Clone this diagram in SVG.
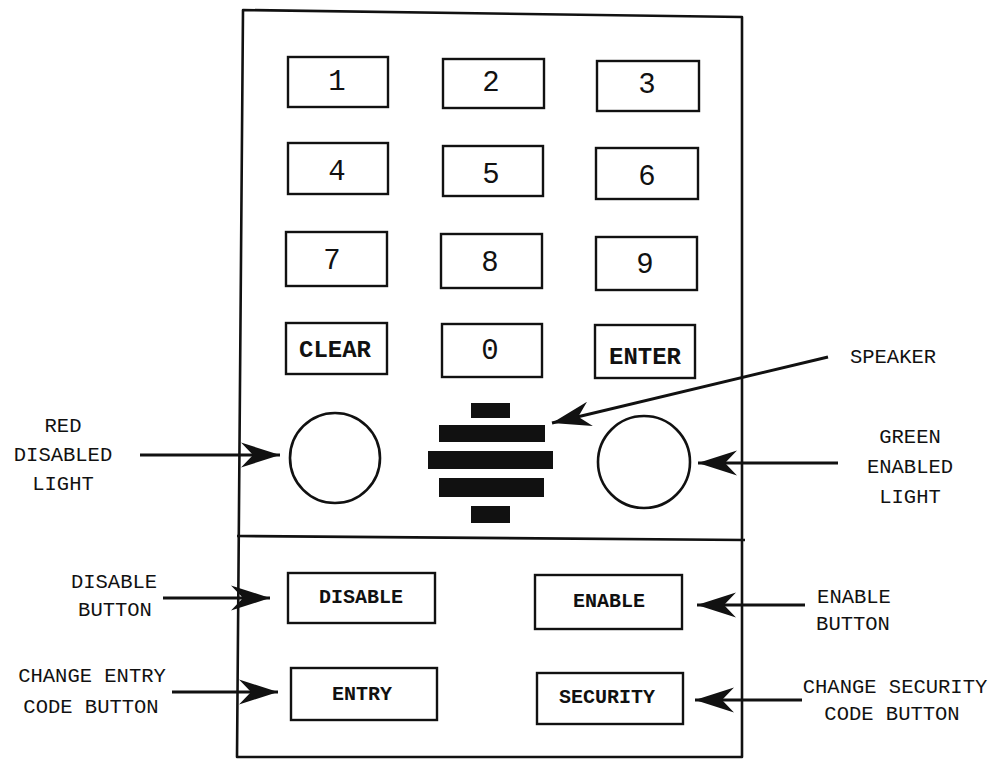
<svg xmlns="http://www.w3.org/2000/svg" width="995" height="761" viewBox="0 0 995 761">
  <style>
    .frame { fill: none; stroke: #111; stroke-width: 2.6; stroke-linejoin: round; }
    .key { fill: #fff; stroke: #111; stroke-width: 2.4; }
    .digit { font-family: "Liberation Mono", "Courier New", monospace; font-size: 29px; fill: #111; text-anchor: middle; }
    .kbold { font-family: "Liberation Mono", "Courier New", monospace; font-size: 24px; font-weight: bold; fill: #111; text-anchor: middle; }
    .bbold { font-family: "Liberation Mono", "Courier New", monospace; font-size: 20px; font-weight: bold; fill: #111; text-anchor: middle; }
    .label { font-family: "Liberation Mono", "Courier New", monospace; font-size: 20.5px; fill: #111; text-anchor: middle; }
    .lamp { fill: #fff; stroke: #111; stroke-width: 2.6; }
    .bar { fill: #111; }
    .arrow { fill: none; stroke: #111; stroke-width: 3; marker-end: url(#barb); }
  </style>
  <defs>
    <marker id="barb" viewBox="-42 -15 44 30" refX="0" refY="0" markerWidth="44" markerHeight="30" markerUnits="userSpaceOnUse" orient="auto">
      <path d="M0,0 L-39,-12.5 L-27,0 L-39,12.5 Z" fill="#111"/>
    </marker>
  </defs>

  <rect width="995" height="761" fill="#fff"/>

  <!-- housing outline and divider between keypad and control section -->
  <g id="housing">
    <path class="frame" d="M243,10 L742,17 L742,757 L237,757 Z"/>
    <path class="frame" d="M237,536 L745,540"/>
  </g>

  <!-- numeric keypad -->
  <g id="key-1"><rect class="key" x="288" y="57" width="100" height="50"/><text class="digit" x="337" y="90">1</text></g>
  <g id="key-2"><rect class="key" x="443" y="59" width="101" height="49"/><text class="digit" x="491" y="91">2</text></g>
  <g id="key-3"><rect class="key" x="597" y="61" width="102" height="50"/><text class="digit" x="647" y="93">3</text></g>
  <g id="key-4"><rect class="key" x="288" y="143" width="100" height="51"/><text class="digit" x="337" y="180">4</text></g>
  <g id="key-5"><rect class="key" x="443" y="146" width="100" height="50"/><text class="digit" x="491" y="183">5</text></g>
  <g id="key-6"><rect class="key" x="596" y="148" width="102" height="51"/><text class="digit" x="647" y="185">6</text></g>
  <g id="key-7"><rect class="key" x="286" y="232" width="101" height="54"/><text class="digit" x="332" y="269">7</text></g>
  <g id="key-8"><rect class="key" x="441" y="234" width="101" height="54"/><text class="digit" x="490" y="271">8</text></g>
  <g id="key-9"><rect class="key" x="596" y="237" width="101" height="53"/><text class="digit" x="645" y="273">9</text></g>
  <g id="key-clear"><rect class="key" x="286" y="323" width="101" height="51"/><text class="kbold" x="335" y="357">CLEAR</text></g>
  <g id="key-0"><rect class="key" x="442" y="324" width="100" height="53"/><text class="digit" x="490" y="359">0</text></g>
  <g id="key-enter"><rect class="key" x="595" y="325" width="100" height="53"/><text class="kbold" x="645" y="364">ENTER</text></g>

  <!-- indicator lamps -->
  <g id="red-light"><circle class="lamp" cx="335" cy="458" r="45"/></g>
  <g id="green-light"><circle class="lamp" cx="644" cy="462" r="46"/></g>

  <!-- speaker grille -->
  <g id="speaker">
    <rect class="bar" x="471" y="403" width="39" height="15"/>
    <rect class="bar" x="439" y="425" width="106" height="17"/>
    <rect class="bar" x="428" y="451" width="125" height="18"/>
    <rect class="bar" x="439" y="478" width="105" height="19"/>
    <rect class="bar" x="471" y="506" width="39" height="17"/>
  </g>

  <!-- control buttons -->
  <g id="btn-disable"><rect class="key" x="288" y="573" width="147" height="50"/><text class="bbold" x="361" y="603">DISABLE</text></g>
  <g id="btn-enable"><rect class="key" x="535" y="575" width="147" height="54"/><text class="bbold" x="609" y="607">ENABLE</text></g>
  <g id="btn-entry"><rect class="key" x="291" y="668" width="146" height="52"/><text class="bbold" x="362" y="700">ENTRY</text></g>
  <g id="btn-security"><rect class="key" x="537" y="673" width="146" height="51"/><text class="bbold" x="607" y="703">SECURITY</text></g>

  <!-- callout labels -->
  <g id="lbl-red">
    <text class="label" x="63" y="432">RED</text>
    <text class="label" x="63" y="461">DISABLED</text>
    <text class="label" x="63" y="490">LIGHT</text>
  </g>
  <g id="lbl-green">
    <text class="label" x="910" y="443">GREEN</text>
    <text class="label" x="910" y="473">ENABLED</text>
    <text class="label" x="910" y="503">LIGHT</text>
  </g>
  <g id="lbl-speaker"><text class="label" x="893" y="363">SPEAKER</text></g>
  <g id="lbl-disable">
    <text class="label" x="114" y="588">DISABLE</text>
    <text class="label" x="115" y="616">BUTTON</text>
  </g>
  <g id="lbl-entry">
    <text class="label" x="92" y="682">CHANGE ENTRY</text>
    <text class="label" x="91" y="713">CODE BUTTON</text>
  </g>
  <g id="lbl-enable">
    <text class="label" x="854" y="603">ENABLE</text>
    <text class="label" x="853" y="630">BUTTON</text>
  </g>
  <g id="lbl-security">
    <text class="label" x="895" y="693">CHANGE SECURITY</text>
    <text class="label" x="892" y="720">CODE BUTTON</text>
  </g>

  <!-- leader arrows -->
  <g id="connectors">
    <line class="arrow" x1="140" y1="455" x2="280" y2="455"/>
    <line class="arrow" x1="838" y1="463" x2="698" y2="463"/>
    <line class="arrow" x1="828" y1="357" x2="552" y2="423"/>
    <line class="arrow" x1="163" y1="598" x2="270" y2="598"/>
    <line class="arrow" x1="805" y1="605" x2="697" y2="605"/>
    <line class="arrow" x1="172" y1="692" x2="278" y2="692"/>
    <line class="arrow" x1="802" y1="700" x2="695" y2="700"/>
  </g>
</svg>
